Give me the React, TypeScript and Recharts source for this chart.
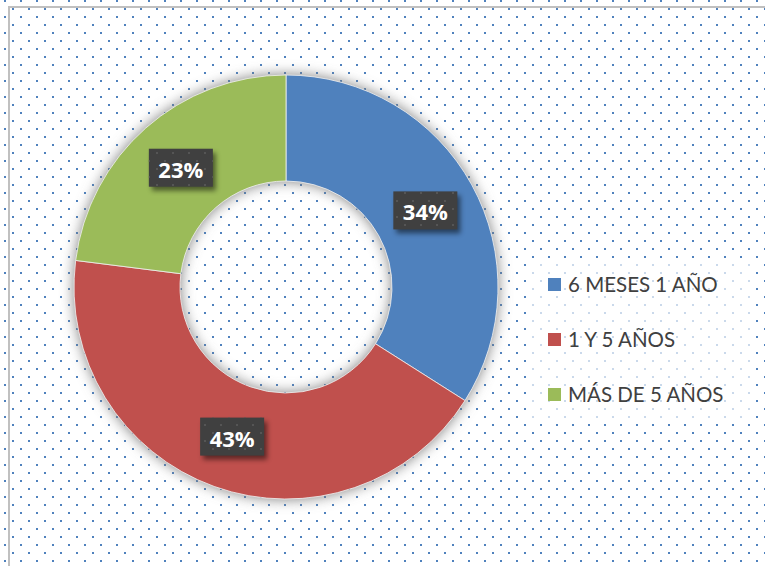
import { PieChart, Pie, Cell, Legend } from "recharts"

const categories = ["6 MESES 1 AÑO", "1 Y 5 AÑOS", "MÁS DE 5 AÑOS"]
const shares = [34, 43, 23]
const colors = ["#4f81bd", "#c0504d", "#9bbb59"]

const data = categories.map((name, i) => ({ name, value: shares[i] }))
const ring = [{ name: "ring", value: 1 }]

const RAD = Math.PI / 180

function renderLabel(props: any) {
    const { cx, cy, midAngle, innerRadius, outerRadius, value } = props
    const r = (innerRadius + outerRadius) / 2
    const x = cx + r * Math.cos(-midAngle * RAD)
    const y = cy + r * Math.sin(-midAngle * RAD)
    const w = 64
    const h = 38
    return (
        <g>
            <rect x={x - w / 2 + 3} y={y - h / 2 + 4} width={w} height={h} fill="#000" opacity={0.5} filter="url(#lblShadow)" />
            <rect x={x - w / 2} y={y - h / 2} width={w} height={h} fill="#404040" />
            <rect x={x - w / 2} y={y - h / 2} width={w} height={h} fill="url(#greyDots)" />
            <text
                x={x}
                y={y + 1}
                textAnchor="middle"
                dominantBaseline="central"
                fill="#fff"
                fontSize={22}
                fontWeight={700}
                fontFamily="'Open Sans', sans-serif"
            >
                {`${value}%`}
            </text>
        </g>
    )
}

function LegendBox() {
    return (
        <div
            style={{
                width: 220,
                height: 164,
                position: "relative",
                background: "rgba(255,255,255,0.7)",
                fontFamily: "Lato, sans-serif",
                fontSize: 20.5,
                color: "#404040",
            }}
        >
            {categories.map((c, i) => (
                <div key={c} style={{ position: "absolute", left: 18, top: 15 + i * 55, height: 22, display: "flex", alignItems: "center", whiteSpace: "nowrap" }}>
                    <span style={{ width: 13, height: 13, background: colors[i], display: "inline-block", marginRight: 7 }} />
                    <span>{c}</span>
                </div>
            ))}
        </div>
    )
}

export default function App() {
    return (
        <div style={{ position: "absolute", left: 0, top: 0, width: 765, height: 566, background: "#fff", overflow: "hidden" }}>
            <svg width={765} height={566} style={{ position: "absolute", left: 0, top: 0 }}>
                <defs>
                    <pattern id="blueDots" patternUnits="userSpaceOnUse" width={16} height={16}>
                        <rect x={12} y={8} width={2} height={2} fill="#4f81bd" />
                        <rect x={4} y={0} width={2} height={2} fill="#4f81bd" />
                    </pattern>
                    <pattern id="greyDots" patternUnits="userSpaceOnUse" width={16} height={16}>
                        <rect x={12} y={8} width={2} height={2} fill="#555" />
                        <rect x={4} y={0} width={2} height={2} fill="#555" />
                    </pattern>
                    <filter id="glow" x="-15%" y="-15%" width="130%" height="130%">
                        <feGaussianBlur stdDeviation={7} />
                    </filter>
                    <filter id="lblShadow" x="-30%" y="-30%" width="160%" height="160%">
                        <feGaussianBlur stdDeviation={2.5} />
                    </filter>
                </defs>
                <rect x={0} y={0} width={765} height={566} fill="url(#blueDots)" />
                <rect x={8} y={6} width={757} height={2} fill="#c0c0c0" />
                <rect x={8} y={6} width={2} height={560} fill="#c0c0c0" />
            </svg>
            <div style={{ position: "absolute", left: 0, top: 0 }}>
                <PieChart width={765} height={566} margin={{ top: 0, right: 0, bottom: 0, left: 0 }}>
                    <Pie
                        data={ring}
                        dataKey="value"
                        cx={286}
                        cy={287}
                        innerRadius={106}
                        outerRadius={212}
                        stroke="none"
                        isAnimationActive={false}
                        legendType="none"
                    >
                        <Cell fill="#7a7a7a" filter="url(#glow)" />
                    </Pie>
                    <Pie
                        data={data}
                        dataKey="value"
                        nameKey="name"
                        cx={286}
                        cy={287}
                        innerRadius={106}
                        outerRadius={212}
                        startAngle={90}
                        endAngle={-270}
                        stroke="#f2f2f2"
                        strokeWidth={0.8}
                        label={renderLabel}
                        labelLine={false}
                        isAnimationActive={false}
                    >
                        {data.map((d, i) => (
                            <Cell key={d.name} fill={colors[i]} />
                        ))}
                    </Pie>
                    <Legend
                        content={() => <LegendBox />}
                        wrapperStyle={{ left: 530, top: 258, width: 220, height: 164 }}
                    />
                </PieChart>
            </div>
        </div>
    )
}
